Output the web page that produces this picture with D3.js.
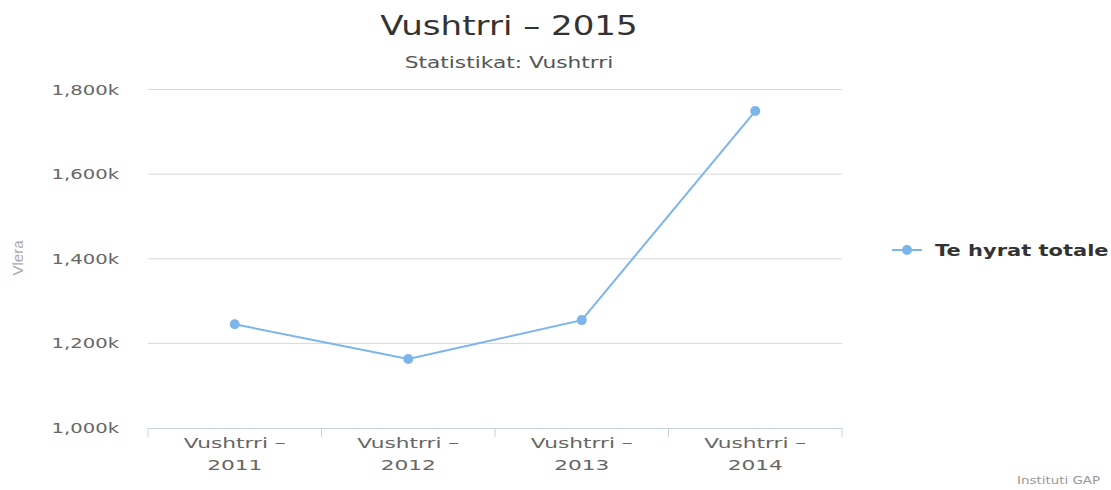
<!DOCTYPE html>
<html><head><meta charset="utf-8">
<script src="https://cdn.jsdelivr.net/npm/d3@7"></script>
<style>body{margin:0;background:#fff}svg{display:block}</style>
</head><body><svg id="c" width="1111" height="490"></svg>
<script>
const categories = ["Vushtrri – 2011","Vushtrri – 2012","Vushtrri – 2013","Vushtrri – 2014"];
const values = [1245000, 1163000, 1255000, 1749000];
const yTicks = [1000000, 1200000, 1400000, 1600000, 1800000];
const seriesName = "Te hyrat totale";
const title = "Vushtrri – 2015";
const subtitle = "Statistikat: Vushtrri";
const yTitle = "Vlera";
const credits = "Instituti GAP";

const svg = d3.select("#c");
const font = "DejaVu Sans, sans-serif";
const L = 148, R = 842, T = 89.5, B = 428;
const x = d3.scaleBand().domain(categories).range([L, R]);
const y = d3.scaleLinear().domain([1000000, 1800000]).range([B, T]);

// stretched text helper
function stext(parent, px, py, sx, txt, opts) {
  const g = parent.append("g").attr("transform", `translate(${px},${py}) scale(${sx},1)`);
  const t = g.append("text").attr("x",0).attr("y",0)
    .attr("text-anchor", opts.anchor || "start")
    .attr("font-family", opts.family || font)
    .attr("font-size", opts.size)
    .attr("font-weight", opts.weight || "normal")
    .attr("fill", opts.fill).text(txt);
  return t;
}

// title
stext(svg, 509, 35, 1.31, title, {anchor:"middle", size:26, fill:"#333"});
stext(svg, 509, 68, 1.45, subtitle, {anchor:"middle", size:15, fill:"#555"});

// grid
svg.append("g").selectAll("line").data(yTicks.slice(1)).join("line")
  .attr("x1", L).attr("x2", R).attr("y1", d=>y(d)).attr("y2", d=>y(d))
  .attr("stroke","#d8d8d8").attr("stroke-width",1);

// y labels
const yl = svg.append("g");
yTicks.forEach(d => stext(yl, 119, y(d)+5, 1.4, d3.format(",")(d/1000)+"k", {anchor:"end", size:14, fill:"#666"}));

svg.append("text").attr("transform","translate(23,258) rotate(-90)")
  .attr("text-anchor","middle").attr("font-family","Liberation Sans Narrow, Liberation Sans, sans-serif")
  .attr("font-size",15).attr("fill","#aaa").text(yTitle);

// x axis
const xa = svg.append("g");
xa.append("line").attr("x1",L).attr("x2",R).attr("y1",B+0.5).attr("y2",B+0.5).attr("stroke","#c8d2dc");
const tickPos = categories.map(c=>x(c)).concat([R]);
xa.selectAll("line.t").data(tickPos).join("line").attr("class","t")
  .attr("x1",d=>d).attr("x2",d=>d).attr("y1",B).attr("y2",B+9).attr("stroke","#c8d2dc");
categories.forEach(c => {
  const cx = x(c) + x.bandwidth()/2;
  const parts = c.split(" – ");
  stext(xa, cx, 448, 1.55, parts[0] + " –", {anchor:"middle", size:14, fill:"#666"});
  stext(xa, cx, 470, 1.55, parts[1], {anchor:"middle", size:14, fill:"#666"});
});

// line
const color = "#7cb5ec";
const line = d3.line().x((d,i)=>x(categories[i])+x.bandwidth()/2).y(d=>y(d));
svg.append("path").datum(values).attr("d", line).attr("fill","none").attr("stroke",color).attr("stroke-width",2);
svg.append("g").selectAll("circle").data(values).join("circle")
  .attr("cx",(d,i)=>x(categories[i])+x.bandwidth()/2).attr("cy",d=>y(d)).attr("r",5).attr("fill",color);

// legend
svg.append("line").attr("x1",892).attr("x2",922).attr("y1",250).attr("y2",250).attr("stroke",color).attr("stroke-width",2);
svg.append("circle").attr("cx",907).attr("cy",250).attr("r",5).attr("fill",color);
stext(svg, 935, 256, 1.4, seriesName, {size:15, weight:"bold", fill:"#333"});

// credits
stext(svg, 1100, 484, 1.34, credits, {anchor:"end", size:10, fill:"#999"});
</script></body></html>
